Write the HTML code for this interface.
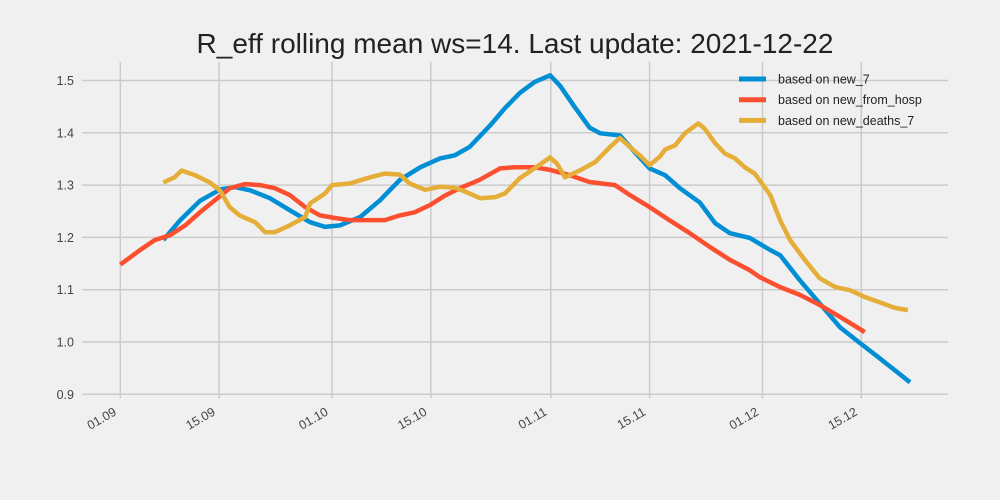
<!DOCTYPE html>
<html><head><meta charset="utf-8"><style>
html,body{margin:0;padding:0;background:#f0f0f0;}
svg{display:block;font-family:"Liberation Sans",sans-serif;}
</style></head><body>
<svg id="chart" width="1000" height="500" viewBox="0 0 1000 500">
<rect x="0" y="0" width="1000" height="500" fill="#f0f0f0"/>
<text x="515" y="53" text-anchor="middle" font-size="28" fill="#222">R_eff rolling mean ws=14. Last update: 2021-12-22</text>
<g id="grid"></g>
<g id="ticks"></g>
<g id="series"></g>
<g id="legend"></g>
</svg>
<script>
const xTickLabels = ["01.09","15.09","01.10","15.10","01.11","15.11","01.12","15.12"];
const xTickDays = [0,14,30,44,61,75,91,105];
const yTicks = [0.9,1.0,1.1,1.2,1.3,1.4,1.5];
const seriesNames = ["based on new_7","based on new_from_hosp","based on new_deaths_7"];
const blueDays = [6.1,8.5,11.3,14.2,16.3,18.4,21.2,24.0,26.9,29.0,31.1,34.0,36.8,39.6,42.5,45.3,47.4,49.5,52.4,54.5,56.6,58.7,60.9,62.3,64.4,66.5,68.0,70.8,72.9,75.0,77.2,79.3,82.1,84.3,86.4,89.2,92.1,93.5,96.3,99.1,102.0,104.8,107.6,111.9];
const blueVals = [1.195,1.233,1.270,1.292,1.296,1.290,1.275,1.252,1.229,1.220,1.223,1.239,1.271,1.310,1.334,1.351,1.357,1.373,1.414,1.447,1.476,1.497,1.510,1.490,1.449,1.410,1.399,1.395,1.363,1.332,1.319,1.294,1.267,1.227,1.208,1.199,1.176,1.166,1.118,1.074,1.028,0.998,0.969,0.923];
const redDays = [0,2.8,4.9,7.0,9.2,11.3,13.4,15.5,17.7,19.8,21.9,24.0,26.2,28.3,30.4,32.5,37.5,39.6,41.7,43.9,46.0,48.1,50.9,53.8,55.9,58.7,60.9,63.7,66.5,70.1,72.2,75.0,77.8,80.7,83.5,86.4,89.2,90.6,93.5,96.3,99.1,102.0,105.5];
const redVals = [1.148,1.176,1.195,1.204,1.223,1.248,1.271,1.294,1.302,1.300,1.294,1.281,1.258,1.242,1.237,1.233,1.233,1.242,1.248,1.262,1.280,1.294,1.310,1.332,1.334,1.334,1.329,1.319,1.306,1.300,1.281,1.258,1.233,1.208,1.182,1.157,1.137,1.124,1.105,1.090,1.071,1.048,1.019];
const goldDays = [6.1,7.7,8.7,10.6,12.7,14.1,15.5,16.9,19.1,20.5,21.9,24.0,26.2,26.9,29.0,30.0,32.5,35.4,37.5,39.6,41.0,43.2,45.3,47.4,48.8,51.0,53.1,54.5,56.6,58.7,60.9,61.9,63.0,65.1,67.3,69.4,70.8,72.2,73.6,75.0,76.5,77.2,78.6,80.0,81.9,82.8,84.3,85.7,87.1,88.5,89.9,91.3,92.1,93.5,94.9,97.0,99.1,101.3,103.4,105.5,107.6,109.8,111.6];
const goldVals = [1.305,1.315,1.328,1.319,1.305,1.290,1.258,1.242,1.229,1.210,1.210,1.223,1.239,1.265,1.284,1.300,1.303,1.315,1.322,1.320,1.303,1.291,1.297,1.295,1.288,1.275,1.277,1.284,1.313,1.332,1.353,1.341,1.315,1.328,1.344,1.373,1.390,1.373,1.357,1.338,1.355,1.368,1.376,1.399,1.418,1.408,1.380,1.360,1.351,1.334,1.322,1.296,1.281,1.233,1.195,1.157,1.122,1.105,1.099,1.086,1.076,1.065,1.061];

const NS="http://www.w3.org/2000/svg";
const X0=120.3, PXD=7.057, L=82, R=948, T=62, B=394.3;
const xs=d=>X0+d*PXD;
const ys=v=>394.3-(v-0.9)*523;
function mk(tag,parent){const e=document.createElementNS(NS,tag);parent.appendChild(e);return e;}
const grid=document.getElementById('grid'), ticks=document.getElementById('ticks');
yTicks.forEach(v=>{
  const l=mk('line',grid);
  
  
  l.setAttribute('x1',L);l.setAttribute('x2',R);l.setAttribute('y1',ys(v));l.setAttribute('y2',ys(v));
  l.setAttribute('stroke','#cbcbcb');l.setAttribute('stroke-width','1.5');
  const t=mk('text',ticks);
  
  
  t.setAttribute('x',74);t.setAttribute('y',ys(v)+4.5);t.setAttribute('text-anchor','end');
  t.setAttribute('font-size','12.5');t.setAttribute('fill','#444');t.textContent=v.toFixed(1);
});
xTickDays.forEach((d,i)=>{
  const l=mk('line',grid);
  
  
  l.setAttribute('x1',xs(d));l.setAttribute('x2',xs(d));l.setAttribute('y1',T);l.setAttribute('y2',B+4);
  l.setAttribute('stroke','#cbcbcb');l.setAttribute('stroke-width','1.5');
  const t=mk('text',ticks);
  
  
  const tx=xs(d)-3, ty=B+20;
  t.setAttribute('x',tx);t.setAttribute('y',ty);t.setAttribute('text-anchor','end');
  t.setAttribute('transform','rotate(-30 '+tx+' '+ty+')');
  t.setAttribute('font-size','12.5');t.setAttribute('fill','#444');t.textContent=xTickLabels[i];
});
const series=document.getElementById('series');
const colors=["#008fd5","#fc4f30","#e5ae38"];
const allDays=[blueDays,redDays,goldDays], allVals=[blueVals,redVals,goldVals];
const lineNames=["line-new-7","line-new-from-hosp","line-new-deaths-7"];
[0,1,2].forEach(k=>{
  const p=mk('polyline',series);
  
  
  p.setAttribute('points',allDays[k].map((d,i)=>xs(d).toFixed(1)+','+ys(allVals[k][i]).toFixed(1)).join(' '));
  p.setAttribute('fill','none');p.setAttribute('stroke',colors[k]);p.setAttribute('stroke-width','4.5');
  p.setAttribute('stroke-linejoin','round');
});
const legend=document.getElementById('legend');
seriesNames.forEach((n,k)=>{
  const y=79+k*20.7;
  const l=mk('line',legend);
  
  
  l.setAttribute('x1',739);l.setAttribute('x2',766);l.setAttribute('y1',y);l.setAttribute('y2',y);
  l.setAttribute('stroke',colors[k]);l.setAttribute('stroke-width','5');
  const t=mk('text',legend);
  
  
  t.setAttribute('x',778);t.setAttribute('y',y+4.5);t.setAttribute('font-size','12.5');t.setAttribute('fill','#222');
  t.textContent=n;
});
</script>
</body></html>
